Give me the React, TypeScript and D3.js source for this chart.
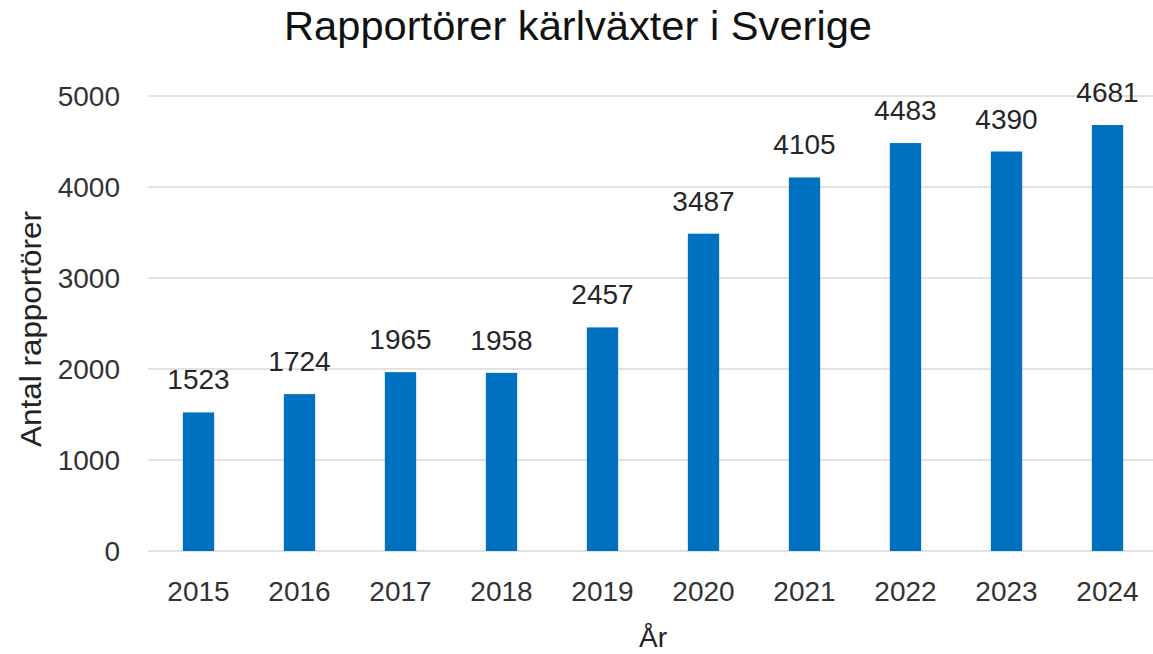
import React, { useEffect, useRef } from 'react';
import * as d3 from 'd3';

const years = ['2015', '2016', '2017', '2018', '2019', '2020', '2021', '2022', '2023', '2024'];
const reporters = [1523, 1724, 1965, 1958, 2457, 3487, 4105, 4483, 4390, 4681];
const yTicks = [0, 1000, 2000, 3000, 4000, 5000];

const W = 1153;
const H = 654;

const App = () => {
  const svgRef = useRef<SVGSVGElement | null>(null);

  useEffect(() => {
    const svg = d3.select(svgRef.current).html('');
    const font = '"Liberation Sans", Arial, sans-serif';

    const x = d3.scaleBand().domain(years).range([148, 1158]).paddingInner(0.69).paddingOuter(0.345);
    const y = d3.scaleLinear().domain([0, 5000]).range([551, 96]);

    // gridlines
    svg.append('g')
      .selectAll('line')
      .data(yTicks)
      .join('line')
      .attr('x1', 148)
      .attr('x2', 1158)
      .attr('y1', d => y(d))
      .attr('y2', d => y(d))
      .attr('stroke', '#d9d9d9')
      .attr('stroke-width', 1.5);

    // y tick labels
    svg.append('g')
      .selectAll('text')
      .data(yTicks)
      .join('text')
      .attr('x', 120)
      .attr('y', d => y(d) + 10)
      .attr('text-anchor', 'end')
      .style('font-family', font)
      .style('font-size', '28px')
      .style('fill', '#333')
      .text(d => d);

    // bars
    svg.append('g')
      .selectAll('rect')
      .data(reporters)
      .join('rect')
      .attr('x', (d, i) => x(years[i])!)
      .attr('y', d => y(d))
      .attr('width', x.bandwidth())
      .attr('height', d => y(0) - y(d))
      .attr('fill', '#0070c0');

    // value labels
    svg.append('g')
      .selectAll('text')
      .data(reporters)
      .join('text')
      .attr('x', (d, i) => x(years[i])! + x.bandwidth() / 2)
      .attr('y', d => y(d) - 23)
      .attr('text-anchor', 'middle')
      .style('font-family', font)
      .style('font-size', '28px')
      .style('fill', '#262626')
      .text(d => d);

    // x tick labels
    svg.append('g')
      .selectAll('text')
      .data(years)
      .join('text')
      .attr('x', d => x(d)! + x.bandwidth() / 2)
      .attr('y', 601)
      .attr('text-anchor', 'middle')
      .style('font-family', font)
      .style('font-size', '28px')
      .style('fill', '#333')
      .text(d => d);

    // title
    svg.append('text')
      .attr('x', 578)
      .attr('y', 40)
      .attr('text-anchor', 'middle')
      .attr('textLength', 588)
      .attr('lengthAdjust', 'spacingAndGlyphs')
      .style('font-family', font)
      .style('font-size', '40px')
      .style('fill', '#111')
      .text('Rapportörer kärlväxter i Sverige');

    // axis titles
    svg.append('text')
      .attr('transform', 'translate(41,329) rotate(-90)')
      .attr('text-anchor', 'middle')
      .attr('textLength', 236)
      .attr('lengthAdjust', 'spacingAndGlyphs')
      .style('font-family', font)
      .style('font-size', '30px')
      .style('fill', '#222')
      .text('Antal rapportörer');

    svg.append('text')
      .attr('x', 653)
      .attr('y', 647)
      .attr('text-anchor', 'middle')
      .style('font-family', font)
      .style('font-size', '28px')
      .style('fill', '#222')
      .text('År');
  }, []);

  return (
    <svg
      ref={svgRef}
      width={W}
      height={H}
      style={{ position: 'absolute', left: 0, top: 0, background: '#fff' }}
    />
  );
};

export default App;
